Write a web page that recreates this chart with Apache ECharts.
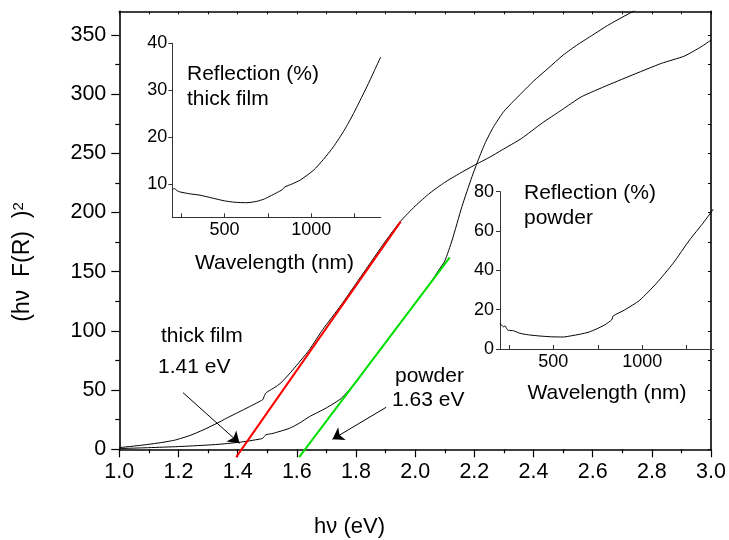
<!DOCTYPE html>
<html><head><meta charset="utf-8">
<script src="https://cdn.jsdelivr.net/npm/echarts@6/dist/echarts.min.js"></script>
<style>html,body{margin:0;padding:0;background:#fff}#c{width:729px;height:540px}</style>
</head><body><div id="c"></div>
<script>
// ---- data ----
const thickFilm = [[1.00,1.4],[1.08,3.6],[1.14,5.6],[1.19,7.9],[1.24,11.8],[1.283,16.3],[1.33,22],[1.362,26.2],[1.40,31],[1.44,36],[1.485,42],[1.49,45],[1.495,47.5],[1.51,50],[1.53,53],[1.55,57],[1.586,67],[1.642,84],[1.687,101],[1.75,122],[1.80,140],[1.85,158],[1.90,176],[1.95,192.5],[2.00,205.5],[2.05,216.5],[2.10,225.5],[2.15,233],[2.20,240],[2.25,246.5],[2.293,252.8],[2.36,262.7],[2.428,275.4],[2.495,286.6],[2.562,297.8],[2.652,307.7],[2.742,317],[2.832,326],[2.91,332.2],[2.966,340],[3.0,345.7]];
const powder = [[1.00,0.6],[1.10,1.4],[1.20,2.3],[1.30,3.6],[1.35,4.5],[1.42,6.4],[1.46,8.0],[1.485,9.3],[1.495,12.2],[1.52,13.5],[1.575,17.7],[1.608,22],[1.642,27.5],[1.70,35],[1.75,43],[1.80,57],[1.85,73.6],[1.90,90.2],[1.95,106.8],[2.00,123.4],[2.05,140],[2.08,151.5],[2.10,159],[2.125,176.8],[2.158,205],[2.192,230.3],[2.214,245],[2.237,259],[2.265,272.5],[2.30,285.5],[2.35,298.5],[2.40,311],[2.45,322],[2.50,333],[2.55,342],[2.60,350],[2.65,358],[2.70,365],[2.74,370.5],[2.76,374]];
const thickFit = [[1.395,-6.6],[1.951,192.3]];
const powderFit = [[1.608,-6.6],[2.117,162.2]];
const arrowThick = [[1.2155,47.8],[1.4064,5.07]];
const arrowPowder = [[1.902,35.5],[1.7205,8.45]];
const insetThick = [[202,9.0],[215,9.1],[225,8.7],[244,8.4],[300,8.0],[360,7.7],[430,7.1],[500,6.5],[560,6.2],[629,6.1],[687,6.4],[730,6.9],[763,7.5],[800,8.2],[835,8.9],[845,9.4],[890,10.1],[936,10.9],[1013,13.0],[1070,15.3],[1128,18.0],[1190,21.5],[1244,25.1],[1290,28.5],[1321,30.8],[1360,33.9],[1400,37.1]];
const insetPowder = [[200,13.1],[210,12.0],[219,11.3],[228,11.8],[240,10.0],[247,9.5],[275,9.3],[312,8.0],[360,7.2],[425,6.6],[490,6.2],[556,6.1],[600,6.7],[649,7.5],[700,8.6],[743,10.2],[790,12.3],[828,14.8],[837,16.8],[900,19.8],[987,24.9],[1080,33.4],[1174,43.6],[1267,55.5],[1342,64],[1400,71.1]];
const xMajor = [1.0,1.2,1.4,1.6,1.8,2.0,2.2,2.4,2.6,2.8,3.0];
const xMinor = [1.1,1.3,1.5,1.7,1.9,2.1,2.3,2.5,2.7,2.9];
const yMajor = [0,50,100,150,200,250,300,350];
const yMinor = [25,75,125,175,225,275,325];
const insetXTicks = [250,500,750,1000,1250];
const insetXLabels = [500,1000];
const insetThickY = [10,20,30,40];
const insetPowderY = [0,20,40,60,80];

// ---- chart ----
const FONT = 'Liberation Sans, Arial, sans-serif';
const chart = echarts.init(document.getElementById('c'), null, {renderer:'canvas'});
function ax(o){
  const base = {type:'value', splitLine:{show:false}, axisLine:{show:false}, axisTick:{show:false}, axisLabel:{show:false}, minorTick:{show:false}};
  return Object.assign(base, o);
}
const black = '#000';
const plain = v => String(v);
const mainLine = {show:true, onZero:false, lineStyle:{color:black, width:1.6}};
const insetLine = {show:true, onZero:false, lineStyle:{color:'#333', width:1}};
const xAxes = [
  ax({gridIndex:0, position:'bottom', min:1, max:3, axisLine:mainLine,
      axisTick:{show:true, customValues:xMajor, length:8, lineStyle:{color:black,width:1.2}},
      axisLabel:{show:true, customValues:xMajor, formatter:v=>v.toFixed(1), fontSize:21.5, margin:12, color:black, fontFamily:FONT}}),
  ax({gridIndex:0, position:'bottom', min:1, max:3,
      axisTick:{show:true, customValues:xMinor, length:4, lineStyle:{color:black,width:1.2}}}),
  ax({gridIndex:0, position:'top', min:1, max:3, axisLine:mainLine,
      axisTick:{show:true, inside:true, customValues:xMajor.concat(xMinor), length:3, lineStyle:{color:black,width:1}}}),
  ax({gridIndex:1, position:'bottom', min:200, max:1400, axisLine:insetLine,
      axisTick:{show:true, inside:true, customValues:insetXTicks, length:4, lineStyle:{color:'#333'}},
      axisLabel:{show:true, customValues:insetXLabels, formatter:plain, fontSize:18, margin:4, color:black, fontFamily:FONT}}),
  ax({gridIndex:2, position:'bottom', min:200, max:1400, axisLine:insetLine,
      axisTick:{show:true, inside:true, customValues:insetXTicks, length:4, lineStyle:{color:'#333'}},
      axisLabel:{show:true, customValues:insetXLabels, formatter:plain, fontSize:18, margin:4, color:black, fontFamily:FONT}})
];
const yAxes = [
  ax({gridIndex:0, position:'left', min:0, max:370, axisLine:mainLine,
      axisTick:{show:true, customValues:yMajor, length:8, lineStyle:{color:black,width:1.2}},
      axisLabel:{show:true, customValues:yMajor, formatter:plain, fontSize:21.5, margin:13, color:black, fontFamily:FONT}}),
  ax({gridIndex:0, position:'left', min:0, max:370,
      axisTick:{show:true, customValues:yMinor, length:4, lineStyle:{color:black,width:1.2}}}),
  ax({gridIndex:0, position:'right', min:0, max:370, axisLine:mainLine,
      axisTick:{show:true, inside:true, customValues:yMajor.concat(yMinor), length:3, lineStyle:{color:black,width:1}}}),
  ax({gridIndex:1, position:'left', min:3, max:40, axisLine:insetLine,
      axisTick:{show:true, customValues:insetThickY, length:4, lineStyle:{color:'#333'}},
      axisLabel:{show:true, customValues:insetThickY, formatter:plain, fontSize:18, margin:5, color:black, fontFamily:FONT}}),
  ax({gridIndex:2, position:'left', min:0, max:80, axisLine:insetLine,
      axisTick:{show:true, customValues:insetPowderY, length:4, lineStyle:{color:'#333'}},
      axisLabel:{show:true, customValues:insetPowderY, formatter:plain, fontSize:18, margin:6, color:black, fontFamily:FONT}})
];
function curve(name, data, xi, yi, color, width, clip, smooth){
  return {name, type:'line', data, xAxisIndex:xi, yAxisIndex:yi, showSymbol:false, symbol:'none',
    smooth:smooth||false, clip:clip, lineStyle:{color, width}, silent:true};
}
function txt(text, x, y, align, size){
  return {type:'text', x, y, silent:true, style:{text, fill:black, font:(size||21)+'px '+FONT, align:align||'left', verticalAlign:'middle'}};
}
const option = {
  backgroundColor:'#fff',
  animation:false,
  textStyle:{fontFamily:FONT},
  grid:[
    {left:119.3, top:11.3, width:593.7, height:438, containLabel:false},
    {left:172.3, top:43.3, width:208.4, height:174, containLabel:false},
    {left:500, top:191.7, width:213.3, height:157.3, containLabel:false}
  ],
  xAxis:xAxes,
  yAxis:yAxes,
  series:[
    curve('thick film', thickFilm, 0, 0, black, 1, true, 0.2),
    curve('powder', powder, 0, 0, black, 1, true, 0.2),
    curve('thick film fit', thickFit, 0, 0, '#ff0000', 2, false),
    curve('powder fit', powderFit, 0, 0, '#00e000', 2, false),
    {type:'lines', coordinateSystem:'cartesian2d', xAxisIndex:0, yAxisIndex:0, silent:true,
      symbol:['none','arrow'], symbolSize:11,
      lineStyle:{color:black, width:1, opacity:1},
      data:[{coords:arrowThick},{coords:arrowPowder}]},
    curve('inset thick film', insetThick, 3, 3, black, 1, true, 0.2),
    curve('inset powder', insetPowder, 4, 4, black, 1, true, 0.2)
  ],
  graphic:[
    txt('thick film', 161, 336),
    txt('1.41 eV', 158, 367),
    txt('powder', 395, 376),
    txt('1.63 eV', 392, 400),
    txt('Reflection (%)', 187, 74),
    txt('thick film', 187, 99),
    txt('Reflection (%)', 524, 193),
    txt('powder', 524, 218),
    txt('Wavelength (nm)', 274.5, 263, 'center'),
    txt('Wavelength (nm)', 607, 393, 'center'),
    txt('hν (eV)', 349.5, 527, 'center', 22),
    {type:'text', x:23, y:262, rotation:Math.PI/2, silent:true,
      style:{text:'{a|(hν  F(R)  )}{s|2}', align:'center', verticalAlign:'middle',
        rich:{a:{fontSize:23, fontFamily:FONT, fill:black, verticalAlign:'bottom'}, s:{fontSize:15, fontFamily:FONT, fill:black, verticalAlign:'top'}}}}
  ]
};
chart.setOption(option);
</script></body></html>
